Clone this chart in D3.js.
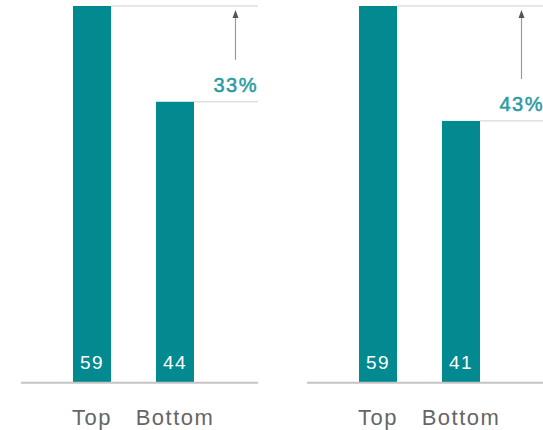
<!DOCTYPE html>
<html>
<head>
<meta charset="utf-8">
<script src="https://cdn.jsdelivr.net/npm/d3@7"></script>
<style>
  html, body { margin: 0; padding: 0; background: #fff; }
  svg { display: block; }
  text { font-family: "Liberation Sans", Arial, Helvetica, sans-serif; }
</style>
</head>
<body>
<svg id="chart" width="543" height="430"></svg>
<script>
// ---- data ----
const categories = ["Top", "Bottom"];
const panelA = [59, 44];
const panelB = [59, 41];
const gapLabels = ["33%", "43%"];

const panels = [
  { values: panelA, label: gapLabels[0] },
  { values: panelB, label: gapLabels[1] }
];

// ---- layout ----
const baseY = 382.7, topY = 6;
const panelOffset = 286;
const panelLeft = 21, panelRight = 258;
const barColor = "#028a90";
const accent = "#2a9ba3";

const svg = d3.select("#chart");

const y = d3.scaleLinear().domain([0, 59]).range([baseY, topY]);
const x = d3.scaleBand().domain(categories).range([73, 194])
  .paddingInner(0.542).paddingOuter(0);

panels.forEach((p, i) => {
  const g = svg.append("g").attr("transform", `translate(${i * panelOffset},0)`);
  const data = categories.map((c, k) => ({ cat: c, value: p.values[k] }));

  // reference lines at bar tops
  data.forEach(d => {
    g.append("line")
      .attr("x1", x(d.cat) + x.bandwidth()).attr("x2", panelRight)
      .attr("y1", y(d.value)).attr("y2", y(d.value))
      .attr("stroke", "#cfcfcf").attr("stroke-width", 1);
  });

  // bars
  g.selectAll("rect.bar").data(data).enter().append("rect")
    .attr("class", "bar")
    .attr("x", d => x(d.cat))
    .attr("width", x.bandwidth())
    .attr("y", d => y(d.value))
    .attr("height", d => y(0) - y(d.value))
    .attr("fill", barColor);

  // baseline
  g.append("line")
    .attr("x1", panelLeft).attr("x2", panelRight)
    .attr("y1", baseY).attr("y2", baseY)
    .attr("stroke", "#c4c4c4").attr("stroke-width", 2);

  // value labels
  g.selectAll("text.val").data(data).enter().append("text")
    .attr("class", "val")
    .attr("x", d => x(d.cat) + x.bandwidth() / 2)
    .attr("y", 369)
    .attr("text-anchor", "middle")
    .attr("fill", "#ffffff")
    .attr("font-size", 19)
    .attr("letter-spacing", 1.5)
    .text(d => d.value);

  // category labels
  g.selectAll("text.cat").data(data).enter().append("text")
    .attr("class", "cat")
    .attr("x", d => x(d.cat) + x.bandwidth() / 2)
    .attr("y", 425)
    .attr("text-anchor", "middle")
    .attr("fill", "#666")
    .attr("font-size", 22)
    .attr("letter-spacing", 1.5)
    .text(d => d.cat);

  // percent label and arrow
  const lowY = y(d3.min(p.values));
  const hiY = y(d3.max(p.values));
  const labelY = lowY - 10;
  g.append("text")
    .attr("x", panelRight)
    .attr("y", labelY)
    .attr("text-anchor", "end")
    .attr("fill", accent)
    .attr("stroke", accent)
    .attr("stroke-width", 0.5)
    .attr("font-size", 20)
    .attr("letter-spacing", 1.5)
    .text(p.label);

  const ax = 235.5;
  const tipY = hiY + 4;
  g.append("line")
    .attr("x1", ax).attr("x2", ax)
    .attr("y1", labelY - 32).attr("y2", tipY + 6)
    .attr("stroke", "#9a9a9a").attr("stroke-width", 1.2);
  g.append("path")
    .attr("d", `M${ax},${tipY} L${ax - 3},${tipY + 8} L${ax + 3},${tipY + 8} Z`)
    .attr("fill", "#555");
});
</script>
</body>
</html>
